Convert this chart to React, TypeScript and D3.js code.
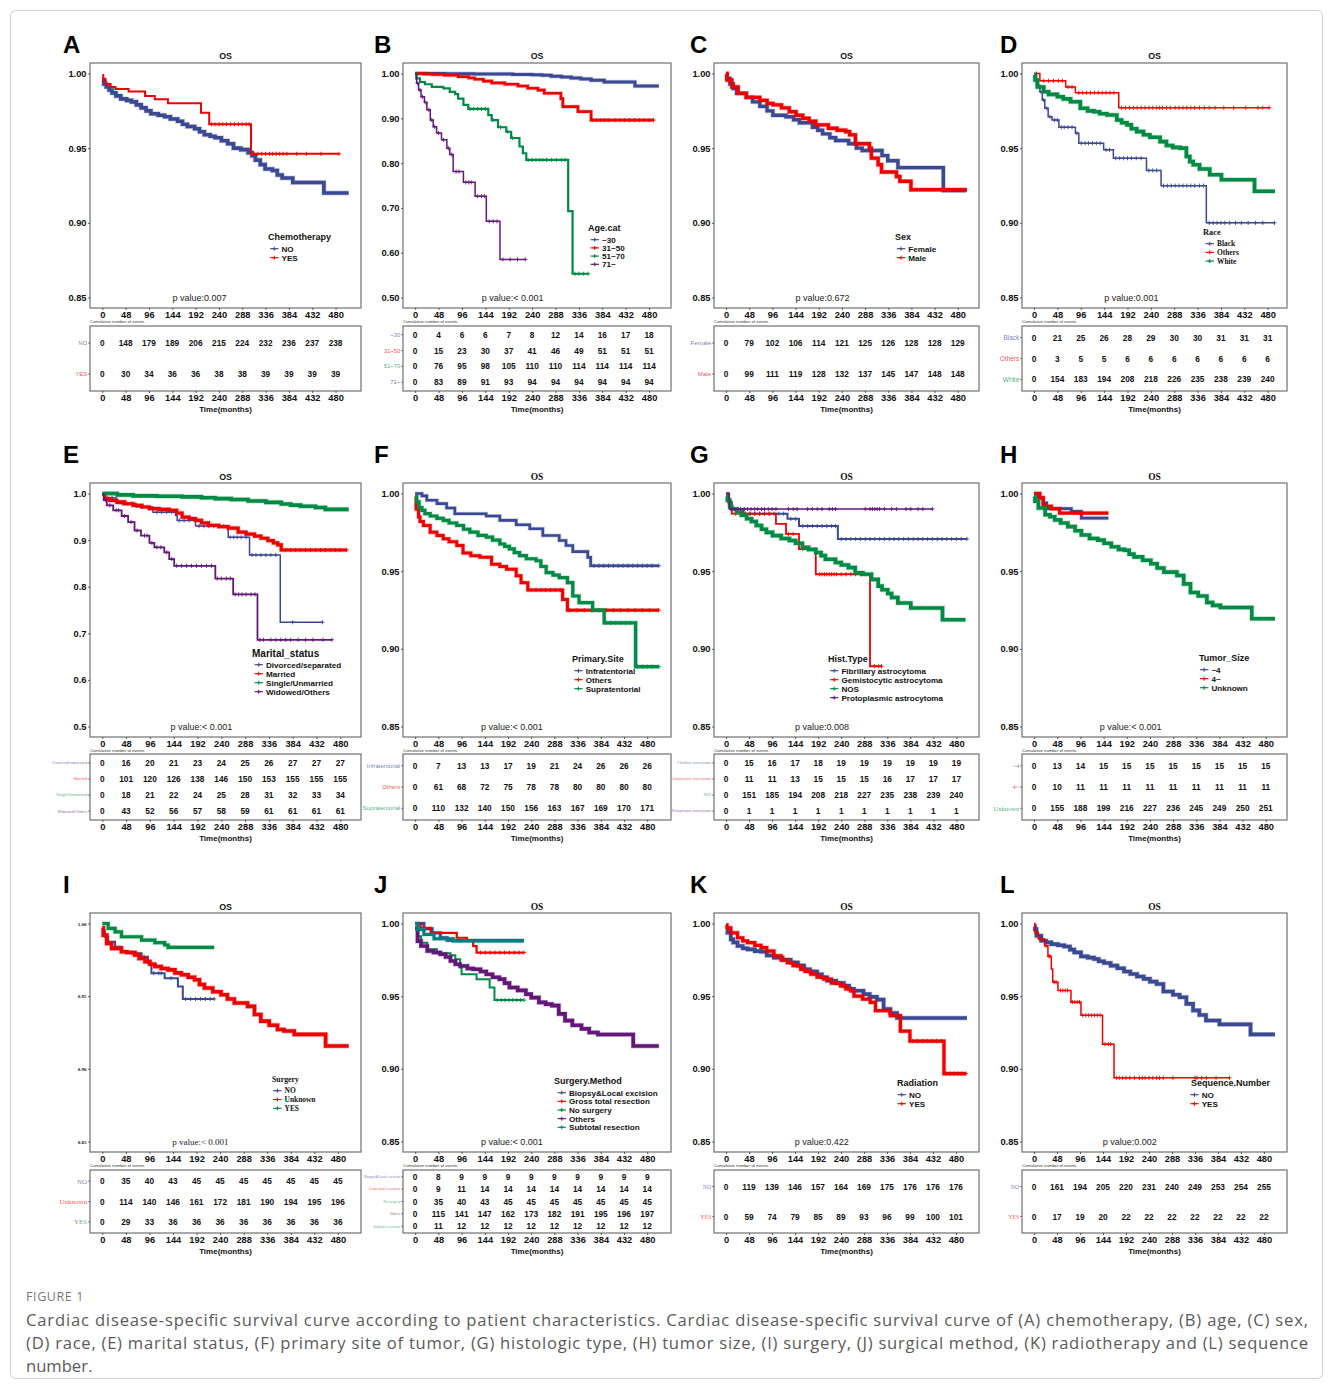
import React, { useEffect, useRef } from 'react';
import * as d3 from 'd3';

const BLUE = '#3B4992';
const RED = '#EE0000';
const GREEN = '#008B45';
const PURPLE = '#631879';
const TEAL = '#008280';
const SANS = '"Liberation Sans", Arial, Helvetica, sans-serif';
const SERIF = '"Liberation Serif", "Times New Roman", serif';
const BOX = '#707070';

type Step = [number, number];

// shared axes
const timeTicks = [0, 48, 96, 144, 192, 240, 288, 336, 384, 432, 480];
const survTicks = [0.85, 0.9, 0.95, 1.0];
const wideTicks = [0.5, 0.6, 0.7, 0.8, 0.9, 1.0];

// A: chemotherapy
const chemoNo: Step[] = [[0,0.996],[3,0.993],[8,0.991],[14,0.989],[20,0.987],[28,0.985],[38,0.983],[50,0.982],[60,0.981],[70,0.979],[80,0.977],[90,0.975],[100,0.973],[115,0.972],[128,0.971],[140,0.9695],[155,0.968],[165,0.966],[175,0.9645],[190,0.963],[200,0.961],[210,0.959],[222,0.958],[232,0.957],[245,0.955],[258,0.953],[270,0.95],[285,0.949],[300,0.947],[308,0.945],[315,0.942],[325,0.939],[335,0.936],[350,0.935],[360,0.932],[370,0.93],[392,0.927],[456,0.92],[507,0.92]];
const chemoYes: Step[] = [[0,0.999],[2,0.996],[7,0.993],[17,0.991],[27,0.9896],[54,0.988],[88,0.985],[108,0.9827],[135,0.98],[203,0.9738],[220,0.966],[306,0.9462],[487,0.9462]];
const chemoYesCensor = [225,232,240,248,256,264,272,280,288,296,302,312,320,328,336,344,350,358,365,372,380,400,420,450,487];
const chemoNoRisk = [0,148,179,189,206,215,224,232,236,237,238];
const chemoYesRisk = [0,30,34,36,36,38,38,39,39,39,39];

// B: age
const age30: Step[] = [[0,1.0],[60,0.9995],[120,0.999],[200,0.998],[240,0.997],[260,0.996],[279,0.994],[300,0.992],[320,0.99],[340,0.988],[361,0.985],[388,0.981],[451,0.972],[500,0.972]];
const age3150: Step[] = [[0,1.0],[20,0.999],[34,0.998],[60,0.996],[88,0.9926],[110,0.99],[122,0.987],[140,0.983],[157,0.979],[184,0.976],[211,0.972],[231,0.967],[252,0.963],[265,0.956],[299,0.944],[303,0.926],[334,0.915],[361,0.896],[489,0.896]];
const age3150Censor = [365,372,380,388,396,410,420,430,440,450,460,470,480,489];
const age5170: Step[] = [[0,1.0],[3,0.989],[10,0.981],[20,0.976],[34,0.97],[58,0.967],[71,0.959],[82,0.954],[88,0.944],[99,0.93],[109,0.921],[150,0.907],[157,0.896],[170,0.88],[187,0.87],[197,0.856],[214,0.837],[221,0.822],[228,0.807],[314,0.693],[323,0.553],[355,0.553]];
const age5170Censor = [112,120,128,136,144,160,175,190,200,232,240,248,256,262,270,280,290,300,308,328,336,345,355];
const age71: Step[] = [[0,1.0],[2,0.989],[3,0.978],[7,0.963],[12,0.948],[19,0.935],[24,0.919],[31,0.896],[37,0.881],[44,0.867],[54,0.852],[65,0.833],[71,0.819],[78,0.781],[99,0.757],[123,0.726],[146,0.67],[174,0.585],[226,0.585]];
const age71Censor = [5,10,15,22,28,34,40,48,58,68,75,84,90,104,110,115,128,136,142,152,160,168,180,195,210,226];
const age30Risk = [0,4,6,6,7,8,12,14,16,17,18];
const age3150Risk = [0,15,23,30,37,41,46,49,51,51,51];
const age5170Risk = [0,76,95,98,105,110,110,114,114,114,114];
const age71Risk = [0,83,89,91,93,94,94,94,94,94,94];

// C: sex
const sexFemale: Step[] = [[0,0.999],[2,0.9967],[8,0.993],[15,0.99],[22,0.9867],[42,0.984],[55,0.981],[70,0.978],[85,0.975],[97,0.972],[124,0.971],[140,0.969],[152,0.967],[179,0.964],[190,0.962],[200,0.9596],[215,0.957],[227,0.9551],[254,0.953],[270,0.95],[282,0.9484],[323,0.945],[335,0.9416],[356,0.937],[450,0.9216],[497,0.9216]];
const sexMale: Step[] = [[0,1.0],[2,0.9956],[12,0.991],[25,0.9867],[42,0.984],[70,0.982],[85,0.98],[97,0.979],[115,0.977],[131,0.9744],[145,0.972],[159,0.97],[172,0.968],[186,0.9656],[212,0.9633],[230,0.962],[248,0.961],[256,0.9589],[268,0.953],[297,0.95],[301,0.9433],[315,0.9389],[322,0.934],[353,0.931],[360,0.9278],[383,0.9222],[499,0.9222]];
const sexFemaleRisk = [0,79,102,106,114,121,125,126,128,128,129];
const sexMaleRisk = [0,99,111,119,128,132,137,145,147,148,148];

// D: race
const raceBlack: Step[] = [[0,1.0],[5,0.992],[12,0.9878],[17,0.9822],[22,0.9767],[29,0.9711],[37,0.9689],[51,0.964],[85,0.96],[92,0.9533],[143,0.9489],[163,0.9433],[231,0.9351],[261,0.9249],[354,0.9],[494,0.9]];
const raceBlackCensor = [8,14,20,26,33,42,48,56,62,70,78,88,97,105,112,120,128,136,148,155,168,176,184,192,200,210,220,236,244,252,266,274,282,290,298,306,314,322,330,340,348,360,368,376,384,392,402,414,426,440,455,470,494];
const raceOthers: Step[] = [[0,1.0],[12,0.9951],[65,0.991],[85,0.9871],[174,0.9771],[483,0.9771]];
const raceOthersCensor = [5,20,30,40,50,58,70,78,92,100,108,116,124,132,140,148,156,164,180,188,196,204,212,220,228,236,244,252,258,264,272,280,290,298,306,314,322,330,340,350,360,372,390,410,435,460,470,483];
const raceWhite: Step[] = [[0,0.999],[2,0.9956],[7,0.991],[20,0.9878],[30,0.986],[48,0.9844],[60,0.983],[75,0.9811],[95,0.9767],[110,0.975],[123,0.9744],[135,0.973],[150,0.9722],[170,0.9689],[180,0.967],[191,0.9656],[200,0.963],[211,0.9611],[225,0.959],[238,0.9573],[259,0.9544],[272,0.9518],[285,0.9505],[300,0.95],[313,0.9444],[320,0.941],[327,0.9389],[340,0.936],[361,0.9322],[385,0.9289],[453,0.9211],[495,0.9211]];
const raceBlackRisk = [0,21,25,26,28,29,30,30,31,31,31];
const raceOthersRisk = [0,3,5,5,6,6,6,6,6,6,6];
const raceWhiteRisk = [0,154,183,194,208,218,226,235,238,239,240];

// E: marital status
const marDiv: Step[] = [[0,1.0],[5,0.9906],[29,0.9784],[68,0.9711],[102,0.96],[148,0.953],[151,0.9423],[188,0.93],[254,0.906],[297,0.868],[359,0.7237],[444,0.7237]];
const marDivCensor = [10,20,40,50,60,80,90,110,120,130,140,155,165,175,195,205,215,225,235,245,258,265,272,280,290,302,310,320,330,340,350,384,444];
const marMarried: Step[] = [[0,0.998],[5,0.989],[15,0.985],[29,0.982],[45,0.978],[62,0.9747],[80,0.971],[95,0.9675],[115,0.966],[135,0.964],[150,0.958],[161,0.9495],[175,0.946],[188,0.9423],[200,0.937],[214,0.9315],[235,0.929],[254,0.9257],[274,0.917],[290,0.913],[307,0.9084],[320,0.904],[334,0.899],[345,0.894],[354,0.8896],[361,0.8788],[493,0.8788]];
const marMarriedCensor = [370,380,390,400,410,420,430,440,450,460,470,480,493];
const marSingle: Step[] = [[0,1.0],[30,0.997],[62,0.995],[110,0.994],[161,0.9928],[200,0.991],[228,0.989],[260,0.987],[294,0.984],[330,0.981],[361,0.9776],[380,0.975],[400,0.9726],[430,0.97],[450,0.966],[497,0.966]];
const marWid: Step[] = [[0,0.998],[3,0.9856],[9,0.9747],[22,0.964],[39,0.9517],[52,0.9387],[65,0.9206],[78,0.9098],[95,0.894],[105,0.8846],[125,0.8737],[135,0.8593],[145,0.8449],[228,0.8175],[264,0.7835],[313,0.6861],[463,0.6861]];
const marWidCensor = [6,15,28,33,45,58,70,85,90,100,110,118,130,140,150,160,170,180,190,200,210,220,232,240,250,258,268,275,282,290,300,308,318,325,340,350,360,370,380,395,410,425,445,463];
const marDivRisk = [0,16,20,21,23,24,25,26,27,27,27];
const marMarriedRisk = [0,101,120,126,138,146,150,153,155,155,155];
const marSingleRisk = [0,18,21,22,24,25,28,31,32,33,34];
const marWidRisk = [0,43,52,56,57,58,59,61,61,61,61];

// F: primary site
const siteInfra: Step[] = [[0,1.0],[14,0.9985],[24,0.9957],[45,0.9935],[65,0.9907],[82,0.987],[147,0.9855],[175,0.9827],[209,0.9799],[237,0.9773],[264,0.973],[298,0.9697],[312,0.9665],[326,0.9626],[357,0.9589],[363,0.9535],[504,0.9535]];
const siteInfraCensor = [370,380,390,400,410,420,430,440,450,460,470,480,490,504];
const siteOthers: Step[] = [[0,0.998],[2,0.99],[7,0.9848],[10,0.982],[17,0.9794],[31,0.9751],[45,0.973],[58,0.9708],[70,0.969],[86,0.9665],[99,0.9617],[115,0.96],[134,0.9589],[158,0.9545],[175,0.953],[189,0.9513],[209,0.947],[219,0.9426],[233,0.9379],[305,0.9318],[315,0.9249],[504,0.9249]];
const siteOthersCensor = [240,250,260,270,280,290,300,320,335,350,365,380,395,410,425,440,455,470,485,504];
const siteSupra: Step[] = [[0,0.998],[3,0.9946],[8,0.991],[14,0.9892],[20,0.987],[31,0.9855],[45,0.984],[58,0.9827],[70,0.981],[86,0.9794],[100,0.977],[113,0.9751],[130,0.973],[147,0.9719],[160,0.97],[175,0.9675],[185,0.966],[195,0.9643],[205,0.962],[216,0.96],[230,0.958],[250,0.9567],[260,0.953],[271,0.9491],[285,0.9475],[298,0.9459],[315,0.9426],[326,0.934],[339,0.9297],[367,0.9249],[391,0.9167],[456,0.8885],[504,0.8885]];
const siteSupraCensor = [395,405,415,425,435,445,460,470,480,490,504];
const siteInfraRisk = [0,7,13,13,17,19,21,24,26,26,26];
const siteOthersRisk = [0,61,68,72,75,78,78,80,80,80,80];
const siteSupraRisk = [0,110,132,140,150,156,163,167,169,170,171];

// G: histologic type
const histFib: Step[] = [[0,1.0],[5,0.9946],[12,0.99],[36,0.987],[128,0.9837],[152,0.979],[233,0.9707],[502,0.9707]];
const histFibCensor = [40,50,60,70,80,90,100,110,120,135,145,160,170,180,190,200,210,220,228,240,250,260,270,280,290,300,310,320,330,340,350,360,370,380,390,400,410,420,430,440,450,460,470,480,490,502];
const histGem: Step[] = [[0,1.0],[5,0.9935],[12,0.987],[104,0.9805],[125,0.974],[152,0.9642],[187,0.948],[300,0.8888],[324,0.8888]];
const histGemCensor = [20,30,40,50,60,70,80,90,130,140,160,170,195,200,205,210,215,220,225,230,240,250,260,270,280,290,310,318,324];
const histNos: Step[] = [[0,0.998],[3,0.9957],[8,0.9913],[12,0.99],[22,0.988],[32,0.986],[43,0.9837],[53,0.982],[63,0.9794],[74,0.977],[84,0.975],[97,0.9729],[115,0.971],[132,0.9697],[145,0.968],[159,0.9653],[172,0.964],[187,0.962],[198,0.96],[207,0.9577],[228,0.9556],[240,0.954],[255,0.9523],[269,0.949],[285,0.948],[303,0.9447],[317,0.9404],[325,0.938],[337,0.9356],[345,0.933],[358,0.9295],[385,0.9263],[451,0.9187],[499,0.9187]];
const histProto: Step[] = [[0,1.0],[7,0.99],[430,0.99]];
const histProtoCensor = [12,18,24,30,38,45,52,60,66,74,80,88,96,104,130,140,148,170,180,190,200,215,222,228,290,300,305,310,315,320,330,345,355,375,385,400,410,430];
const histFibRisk = [0,15,16,17,18,19,19,19,19,19,19];
const histGemRisk = [0,11,11,13,15,15,15,16,17,17,17];
const histNosRisk = [0,151,185,194,208,218,227,235,238,239,240];
const histProtoRisk = [0,1,1,1,1,1,1,1,1,1,1];

// H: tumor size
const sizeSmall: Step[] = [[0,1.0],[9,0.9972],[19,0.9939],[26,0.9902],[77,0.9885],[98,0.9841],[154,0.9841]];
const sizeLarge: Step[] = [[0,1.0],[12,0.9972],[19,0.9918],[36,0.9902],[53,0.9874],[154,0.9874]];
const sizeUnknown: Step[] = [[0,0.998],[2,0.995],[9,0.9907],[23,0.9863],[33,0.985],[43,0.983],[55,0.981],[70,0.9787],[85,0.976],[98,0.9733],[115,0.971],[132,0.97],[145,0.968],[160,0.9657],[175,0.964],[187,0.9635],[197,0.961],[207,0.9592],[225,0.957],[242,0.9548],[255,0.952],[269,0.9494],[296,0.9472],[310,0.9418],[324,0.9363],[340,0.934],[358,0.9298],[370,0.928],[386,0.9266],[451,0.9194],[499,0.9194]];
const sizeSmallRisk = [0,13,14,15,15,15,15,15,15,15,15];
const sizeLargeRisk = [0,10,11,11,11,11,11,11,11,11,11];
const sizeUnknownRisk = [0,155,188,199,216,227,236,245,249,250,251];

// I: surgery
const surgNo: Step[] = [[0,0.996],[2,0.9954],[5,0.9909],[12,0.9875],[26,0.984],[39,0.9806],[60,0.9795],[80,0.9772],[93,0.9727],[100,0.9658],[127,0.9624],[154,0.9567],[164,0.9481],[228,0.9481]];
const surgNoCensor = [60,70,85,105,115,120,140,170,180,190,200,210,220,228];
const surgUnknown: Step[] = [[0,0.997],[2,0.992],[9,0.9863],[19,0.9829],[39,0.9806],[50,0.98],[66,0.9784],[75,0.976],[87,0.9738],[97,0.972],[107,0.9704],[120,0.969],[134,0.9681],[148,0.966],[161,0.9647],[175,0.963],[188,0.9613],[198,0.958],[208,0.9556],[225,0.953],[242,0.951],[255,0.948],[269,0.9453],[296,0.943],[310,0.9374],[323,0.9328],[340,0.93],[357,0.9271],[370,0.926],[391,0.9237],[455,0.9157],[502,0.9157]];
const surgYes: Step[] = [[0,1.0],[12,0.9966],[26,0.9943],[39,0.9909],[80,0.9886],[107,0.9868],[127,0.9852],[134,0.9836],[228,0.9836]];
const surgNoRisk = [0,35,40,43,45,45,45,45,45,45,45];
const surgUnknownRisk = [0,114,140,146,161,172,181,190,194,195,196];
const surgYesRisk = [0,29,33,36,36,36,36,36,36,36,36];

// J: surgical method
const methBiopsy: Step[] = [[0,1.0],[18,0.9964],[35,0.9936],[52,0.9902],[66,0.9884],[225,0.9884]];
const methGross: Step[] = [[0,1.0],[11,0.997],[32,0.9936],[86,0.9902],[107,0.9886],[120,0.9845],[127,0.98],[225,0.98]];
const methGrossCensor = [135,145,155,165,175,185,195,205,215,225];
const methNone: Step[] = [[0,0.996],[5,0.9913],[12,0.9868],[25,0.9822],[45,0.9795],[73,0.9781],[83,0.9754],[93,0.9697],[96,0.9651],[127,0.9617],[154,0.956],[164,0.9473],[225,0.9473]];
const methNoneCensor = [170,178,186,194,202,210,218,225];
const methOthers: Step[] = [[0,0.997],[5,0.9879],[12,0.9845],[25,0.9811],[38,0.98],[52,0.9788],[63,0.977],[73,0.9742],[83,0.972],[93,0.9708],[108,0.969],[120,0.9685],[135,0.967],[147,0.9651],[160,0.963],[174,0.9617],[185,0.959],[195,0.956],[212,0.954],[229,0.9514],[240,0.949],[256,0.9457],[270,0.9445],[283,0.9435],[297,0.9378],[310,0.9332],[325,0.93],[344,0.9275],[360,0.925],[378,0.9236],[451,0.9157],[504,0.9157]];
const methSub: Step[] = [[0,1.0],[5,0.9959],[18,0.9925],[39,0.9895],[79,0.9879],[225,0.9879]];
const methBiopsyRisk = [0,8,9,9,9,9,9,9,9,9,9];
const methGrossRisk = [0,9,11,14,14,14,14,14,14,14,14];
const methNoneRisk = [0,35,40,43,45,45,45,45,45,45,45];
const methOthersRisk = [0,115,141,147,162,173,182,191,195,196,197];
const methSubRisk = [0,11,12,12,12,12,12,12,12,12,12];

// K: radiation
const radNo: Step[] = [[0,0.995],[3,0.9936],[10,0.9891],[15,0.987],[24,0.9845],[35,0.983],[45,0.9822],[60,0.981],[73,0.9806],[85,0.978],[100,0.9765],[118,0.975],[135,0.9731],[150,0.971],[163,0.9685],[175,0.967],[190,0.9651],[200,0.963],[211,0.9606],[230,0.959],[246,0.9571],[257,0.955],[267,0.9537],[287,0.9514],[300,0.9495],[315,0.9476],[329,0.9412],[343,0.9384],[357,0.935],[503,0.935]];
const radYes: Step[] = [[0,0.999],[2,0.997],[10,0.9936],[24,0.9902],[35,0.988],[45,0.9868],[60,0.985],[73,0.9834],[85,0.981],[100,0.9777],[115,0.975],[128,0.9731],[140,0.971],[156,0.9685],[165,0.967],[177,0.9651],[190,0.963],[204,0.9617],[220,0.959],[239,0.9571],[250,0.955],[260,0.9537],[267,0.95],[285,0.948],[301,0.9457],[312,0.94],[343,0.9366],[364,0.9259],[384,0.9191],[455,0.8967],[501,0.8967]];
const radYesCensor = [390,400,410,420,430,440,450,460,468,476,484,492,501];
const radNoRisk = [0,119,139,146,157,164,169,175,176,176,176];
const radYesRisk = [0,59,74,79,85,89,93,96,99,100,101];

// L: sequence number
const seqNo: Step[] = [[0,0.998],[2,0.9961],[5,0.9916],[15,0.9881],[25,0.987],[36,0.9858],[50,0.985],[63,0.9842],[75,0.982],[84,0.9801],[98,0.9774],[112,0.9765],[125,0.9756],[135,0.974],[146,0.9728],[160,0.971],[174,0.9692],[188,0.967],[201,0.9653],[215,0.9635],[229,0.9619],[242,0.96],[256,0.9584],[270,0.9532],[290,0.951],[304,0.9493],[318,0.9447],[332,0.9402],[345,0.937],[359,0.9333],[387,0.9306],[452,0.9237],[503,0.9237]];
const seqYes: Step[] = [[0,1.0],[2,0.9938],[9,0.9893],[22,0.9847],[29,0.9774],[36,0.9687],[39,0.9596],[50,0.9539],[77,0.9459],[98,0.9368],[143,0.9169],[167,0.8938],[408,0.8938]];
const seqYesCensor = [5,12,18,25,31,33,42,46,55,60,65,70,80,85,90,95,102,108,114,120,126,132,138,148,155,160,172,178,185,192,200,210,220,226,232,240,248,256,262,270,290,336,340,350,360,380,408];
const seqNoRisk = [0,161,194,205,220,231,240,249,253,254,255];
const seqYesRisk = [0,17,19,20,22,22,22,22,22,22,22];

interface Series { name: string; color: string; steps: Step[]; censor?: number[]; risk: number[]; w: number; }
interface Panel {
  letter: string; col: number; row: number; yTicks: number[]; yFmt: string; pText: string;
  legendTitle: string; legend: [number, number]; legendText: number; legendStep?: number;
  titleSerif?: boolean; legendSerif?: boolean; rowSerif?: boolean; rowSize: number; tickSerif?: boolean; pSerif?: boolean;
  legendTitleSize?: number; series: Series[];
}

const cols = [
  { left: 90, right: 361, letterX: 63 },
  { left: 403, right: 671, letterX: 374 },
  { left: 714, right: 979, letterX: 690 },
  { left: 1022, right: 1287, letterX: 1000 },
];
const rows = [
  { letterY: 53, titleY: 58.5, plotTop: 63, plotBottom: 308, tableTop: 326, tableBottom: 391 },
  { letterY: 463, titleY: 480, plotTop: 483, plotBottom: 737, tableTop: 754, tableBottom: 820 },
  { letterY: 893, titleY: 909.5, plotTop: 913, plotBottom: 1152, tableTop: 1170, tableBottom: 1233 },
];

const panels: Panel[] = [
  { letter: 'A', col: 0, row: 0, yTicks: survTicks, yFmt: '.2f', pText: 'p value:0.007', legendTitle: 'Chemotherapy', legend: [178, 174], legendText: 13.5, rowSize: 6,
    series: [
      { name: 'NO', color: BLUE, steps: chemoNo, risk: chemoNoRisk, w: 3.6 },
      { name: 'YES', color: RED, steps: chemoYes, censor: chemoYesCensor, risk: chemoYesRisk, w: 2 },
    ] },
  { letter: 'B', col: 1, row: 0, yTicks: wideTicks, yFmt: '.2f', pText: 'p value:< 0.001', legendTitle: 'Age.cat', legend: [185, 165], legendText: 14, legendStep: 8.2, rowSize: 5.8,
    series: [
      { name: '~30', color: BLUE, steps: age30, risk: age30Risk, w: 3 },
      { name: '31~50', color: RED, steps: age3150, censor: age3150Censor, risk: age3150Risk, w: 2.6 },
      { name: '51~70', color: GREEN, steps: age5170, censor: age5170Censor, risk: age5170Risk, w: 2.2 },
      { name: '71~', color: PURPLE, steps: age71, censor: age71Censor, risk: age71Risk, w: 1.5 },
    ] },
  { letter: 'C', col: 2, row: 0, yTicks: survTicks, yFmt: '.2f', pText: 'p value:0.672', legendTitle: 'Sex', legend: [181, 174], legendText: 13.3, rowSize: 6.2,
    series: [
      { name: 'Female', color: BLUE, steps: sexFemale, risk: sexFemaleRisk, w: 3.4 },
      { name: 'Male', color: RED, steps: sexMale, risk: sexMaleRisk, w: 3.4 },
    ] },
  { letter: 'D', col: 3, row: 0, yTicks: survTicks, yFmt: '.2f', pText: 'p value:0.001', legendTitle: 'Race', legend: [181, 169], legendText: 14, legendStep: 8.7, legendSerif: true, legendTitleSize: 8.4, rowSize: 6.4,
    series: [
      { name: 'Black', color: BLUE, steps: raceBlack, censor: raceBlackCensor, risk: raceBlackRisk, w: 1.5 },
      { name: 'Others', color: RED, steps: raceOthers, censor: raceOthersCensor, risk: raceOthersRisk, w: 1.5 },
      { name: 'White', color: GREEN, steps: raceWhite, risk: raceWhiteRisk, w: 3.6 },
    ] },
  { letter: 'E', col: 0, row: 1, yTicks: wideTicks, yFmt: '.1f', pText: 'p value:< 0.001', legendTitle: 'Marital_status', legend: [162, 170], legendText: 14, legendTitleSize: 10, rowSize: 4,
    series: [
      { name: 'Divorced/separated', color: BLUE, steps: marDiv, censor: marDivCensor, risk: marDivRisk, w: 1.5 },
      { name: 'Married', color: RED, steps: marMarried, censor: marMarriedCensor, risk: marMarriedRisk, w: 3.2 },
      { name: 'Single/Unmarried', color: GREEN, steps: marSingle, risk: marSingleRisk, w: 3.6 },
      { name: 'Widowed/Others', color: PURPLE, steps: marWid, censor: marWidCensor, risk: marWidRisk, w: 1.8 },
    ] },
  { letter: 'F', col: 1, row: 1, yTicks: survTicks, yFmt: '.2f', pText: 'p value:< 0.001', legendTitle: 'Primary.Site', legend: [169, 176], legendText: 13.7, titleSerif: true, rowSize: 6,
    series: [
      { name: 'Infratentorial', color: BLUE, steps: siteInfra, censor: siteInfraCensor, risk: siteInfraRisk, w: 2.6 },
      { name: 'Others', color: RED, steps: siteOthers, censor: siteOthersCensor, risk: siteOthersRisk, w: 3 },
      { name: 'Supratentorial', color: GREEN, steps: siteSupra, censor: siteSupraCensor, risk: siteSupraRisk, w: 3.2 },
    ] },
  { letter: 'G', col: 2, row: 1, yTicks: survTicks, yFmt: '.2f', pText: 'p value:0.008', legendTitle: 'Hist.Type', legend: [114, 176], legendText: 13.4, titleSerif: true, rowSerif: true, rowSize: 3.8,
    series: [
      { name: 'Fibrillary astrocytoma', color: BLUE, steps: histFib, censor: histFibCensor, risk: histFibRisk, w: 2 },
      { name: 'Gemistocytic astrocytoma', color: RED, steps: histGem, censor: histGemCensor, risk: histGemRisk, w: 1.8 },
      { name: 'NOS', color: GREEN, steps: histNos, risk: histNosRisk, w: 3.6 },
      { name: 'Protoplasmic astrocytoma', color: PURPLE, steps: histProto, censor: histProtoCensor, risk: histProtoRisk, w: 1.5 },
    ] },
  { letter: 'H', col: 3, row: 1, yTicks: survTicks, yFmt: '.2f', pText: 'p value:< 0.001', legendTitle: 'Tumor_Size', legend: [177, 175], legendText: 12.4, titleSerif: true, rowSerif: true, rowSize: 6.5,
    series: [
      { name: '~4', color: BLUE, steps: sizeSmall, risk: sizeSmallRisk, w: 2.8 },
      { name: '4~', color: RED, steps: sizeLarge, risk: sizeLargeRisk, w: 3.2 },
      { name: 'Unknown', color: GREEN, steps: sizeUnknown, risk: sizeUnknownRisk, w: 3.6 },
    ] },
  { letter: 'I', col: 0, row: 2, yTicks: survTicks, yFmt: '.2f', pText: 'p value:< 0.001', legendTitle: 'Surgery', legend: [182, 166], legendText: 12.6, legendStep: 8.8, legendSerif: true, legendTitleSize: 7.8, rowSerif: true, rowSize: 7, tickSerif: true, pSerif: true,
    series: [
      { name: 'NO', color: BLUE, steps: surgNo, censor: surgNoCensor, risk: surgNoRisk, w: 2 },
      { name: 'Unknown', color: RED, steps: surgUnknown, risk: surgUnknownRisk, w: 3.6 },
      { name: 'YES', color: GREEN, steps: surgYes, risk: surgYesRisk, w: 3.2 },
    ] },
  { letter: 'J', col: 1, row: 2, yTicks: survTicks, yFmt: '.2f', pText: 'p value:< 0.001', legendTitle: 'Surgery.Method', legend: [151, 168], legendText: 15, legendStep: 8.65, titleSerif: true, rowSerif: true, rowSize: 3.8,
    series: [
      { name: 'Biopsy&Local excision', color: BLUE, steps: methBiopsy, risk: methBiopsyRisk, w: 2.8 },
      { name: 'Gross total resection', color: RED, steps: methGross, censor: methGrossCensor, risk: methGrossRisk, w: 2.2 },
      { name: 'No surgery', color: GREEN, steps: methNone, censor: methNoneCensor, risk: methNoneRisk, w: 2 },
      { name: 'Others', color: PURPLE, steps: methOthers, risk: methOthersRisk, w: 3.6 },
      { name: 'Subtotal resection', color: TEAL, steps: methSub, risk: methSubRisk, w: 3 },
    ] },
  { letter: 'K', col: 2, row: 2, yTicks: survTicks, yFmt: '.2f', pText: 'p value:0.422', legendTitle: 'Radiation', legend: [183, 170], legendText: 12, titleSerif: true, rowSerif: true, rowSize: 5.8,
    series: [
      { name: 'NO', color: BLUE, steps: radNo, risk: radNoRisk, w: 3.6 },
      { name: 'YES', color: RED, steps: radYes, censor: radYesCensor, risk: radYesRisk, w: 3.2 },
    ] },
  { letter: 'L', col: 3, row: 2, yTicks: survTicks, yFmt: '.2f', pText: 'p value:0.002', legendTitle: 'Sequence.Number', legend: [169, 170], legendText: 10.7, titleSerif: true, rowSerif: true, rowSize: 5.8,
    series: [
      { name: 'NO', color: BLUE, steps: seqNo, risk: seqNoRisk, w: 3.6 },
      { name: 'YES', color: RED, steps: seqYes, censor: seqYesCensor, risk: seqYesRisk, w: 1.5 },
    ] },
];

const captionLines = [
  'Cardiac disease-specific survival curve according to patient characteristics. Cardiac disease-specific survival curve of (A) chemotherapy, (B) age, (C) sex,',
  '(D) race, (E) marital status, (F) primary site of tumor, (G) histologic type, (H) tumor size, (I) surgery, (J) surgical method, (K) radiotherapy and (L) sequence',
  'number.',
];

const bisectT = d3.bisector((d: Step) => d[0]).right;
const survAt = (steps: Step[], t: number) => steps[Math.max(0, bisectT(steps, t) - 1)][1];
const plusPath = (cx: number, cy: number, h: number) => `M${cx - h},${cy}H${cx + h}M${cx},${cy - h}V${cy + h}`;

function styleAxis(sel: any, family: string, size: number) {
  sel.select('.domain').remove();
  sel.selectAll('.tick line').attr('stroke', '#333').attr('stroke-width', 0.8);
  sel.selectAll('.tick text').attr('font-family', family).attr('font-size', size).attr('font-weight', 'bold').attr('fill', '#111');
}

function drawPanel(svg: any, p: Panel) {
  const c = cols[p.col];
  const r = rows[p.row];
  const maxT = d3.max(p.series, s => s.steps[s.steps.length - 1][0]) as number;
  const x = d3.scaleLinear().domain([-0.05 * maxT, 1.05 * maxT]).range([c.left, c.right]);
  const y = d3.scaleLinear().domain(d3.extent(p.yTicks) as [number, number]).range([r.plotBottom - 10.5, r.plotTop + 10.5]);
  const g = svg.append('g');
  const cx = (c.left + c.right) / 2;

  g.append('text').attr('x', c.letterX).attr('y', r.letterY).attr('font-family', SANS).attr('font-weight', 'bold')
    .attr('font-size', 24).attr('fill', '#000').text(p.letter);
  g.append('text').attr('x', cx).attr('y', r.titleY).attr('text-anchor', 'middle').attr('font-weight', 'bold')
    .attr('font-family', p.titleSerif ? SERIF : SANS).attr('font-size', p.titleSerif ? 9.5 : 8.8).attr('fill', '#111').text('OS');

  g.append('rect').attr('x', c.left).attr('y', r.plotTop).attr('width', c.right - c.left).attr('height', r.plotBottom - r.plotTop)
    .attr('fill', 'none').attr('stroke', BOX).attr('stroke-width', 1.2);

  const ya = g.append('g').attr('transform', `translate(${c.left},0)`)
    .call(d3.axisLeft(y).tickValues(p.yTicks).tickFormat(d3.format(p.yFmt) as any).tickSize(2).tickPadding(1.5));
  styleAxis(ya, p.tickSerif ? SERIF : SANS, p.tickSerif ? 5 : 9.3);
  const xa = g.append('g').attr('transform', `translate(0,${r.plotBottom})`)
    .call(d3.axisBottom(x).tickValues(timeTicks).tickFormat(d3.format('d') as any).tickSize(2).tickPadding(1));
  styleAxis(xa, SANS, 9.3);

  const line = d3.line<Step>().x(d => x(d[0])).y(d => y(d[1])).curve(d3.curveStepAfter);
  p.series.forEach(s => {
    if (s.w > 2.5) {
      g.append('path').attr('d', line(s.steps)).attr('fill', 'none').attr('stroke', s.color)
        .attr('stroke-opacity', 0.28).attr('stroke-width', s.w + 1.4);
    }
    g.append('path').attr('d', line(s.steps)).attr('fill', 'none').attr('stroke', s.color).attr('stroke-width', s.w);
    if (s.censor) {
      const d = s.censor.map(t => plusPath(x(t), y(survAt(s.steps, t)), 2.1)).join('');
      g.append('path').attr('d', d).attr('fill', 'none').attr('stroke', s.color).attr('stroke-width', 0.9);
    }
  });

  // legend
  const lf = p.legendSerif ? SERIF : SANS;
  const lg = g.append('g').attr('transform', `translate(${c.left + p.legend[0]},${r.plotTop + p.legend[1]})`);
  const tSize = p.legendTitleSize ?? 9;
  lg.append('text').attr('x', 0).attr('y', tSize * 0.36).attr('font-family', lf).attr('font-weight', 'bold')
    .attr('font-size', tSize).attr('fill', '#111').text(p.legendTitle);
  const step = p.legendStep ?? 9;
  const iSize = p.legendSerif ? 7.4 : 8.1;
  p.series.forEach((s, i) => {
    const yy = 11.7 + i * step;
    const x0 = p.legendText - 11.5;
    const x1 = p.legendText - 3;
    lg.append('line').attr('x1', x0).attr('x2', x1).attr('y1', yy).attr('y2', yy).attr('stroke', s.color).attr('stroke-width', 1.1);
    lg.append('path').attr('d', plusPath((x0 + x1) / 2, yy, 2)).attr('stroke', s.color).attr('stroke-width', 1);
    lg.append('text').attr('x', p.legendText).attr('y', yy + iSize * 0.36).attr('font-family', lf).attr('font-weight', 'bold')
      .attr('font-size', iSize).attr('fill', '#111').text(s.name);
  });

  g.append('text').attr('x', x(200)).attr('y', y(p.yTicks[0]) + 3).attr('text-anchor', 'middle')
    .attr('font-family', p.pSerif ? SERIF : SANS).attr('font-size', 9).attr('fill', '#222').text(p.pText);

  g.append('text').attr('x', c.left).attr('y', r.plotBottom + 14.6).attr('font-family', SANS).attr('font-size', 4.2)
    .attr('fill', '#333').text('Cumulative number of events');

  // risk table
  g.append('rect').attr('x', c.left).attr('y', r.tableTop).attr('width', c.right - c.left).attr('height', r.tableBottom - r.tableTop)
    .attr('fill', 'none').attr('stroke', BOX).attr('stroke-width', 1.2);
  const ry = d3.scalePoint<string>().domain(p.series.map(s => s.name)).range([r.tableTop, r.tableBottom]).padding(0.55);
  p.series.forEach(s => {
    const yy = ry(s.name) as number;
    g.append('line').attr('x1', c.left - 2).attr('x2', c.left).attr('y1', yy).attr('y2', yy).attr('stroke', '#555').attr('stroke-width', 0.7);
    g.append('text').attr('x', c.left - 2.8).attr('y', yy + p.rowSize * 0.35).attr('text-anchor', 'end')
      .attr('font-family', p.rowSerif ? SERIF : SANS).attr('font-size', p.rowSize).attr('fill', s.color).attr('fill-opacity', 0.72).text(s.name);
    g.selectAll(null).data(s.risk).enter().append('text')
      .attr('x', (_d: number, i: number) => x(timeTicks[i])).attr('y', yy + 3).attr('text-anchor', 'middle')
      .attr('font-family', SANS).attr('font-weight', 'bold').attr('font-size', 8.3).attr('fill', '#111').text((d: number) => d);
  });
  const ta = g.append('g').attr('transform', `translate(0,${r.tableBottom})`)
    .call(d3.axisBottom(x).tickValues(timeTicks).tickFormat(d3.format('d') as any).tickSize(2).tickPadding(1));
  styleAxis(ta, SANS, 9.3);
  g.append('text').attr('x', cx).attr('y', r.tableBottom + 20.5).attr('text-anchor', 'middle').attr('font-family', SANS)
    .attr('font-weight', 'bold').attr('font-size', 8).attr('fill', '#111').text('Time(months)');
}

const App: React.FC = () => {
  const ref = useRef<SVGSVGElement | null>(null);

  useEffect(() => {
    document.body.style.margin = '0';
    if (!ref.current) return;
    const svg = d3.select(ref.current);
    svg.selectAll('*').remove();
    svg.append('rect').attr('width', 1333).attr('height', 1385).attr('fill', '#fff');
    svg.append('rect').attr('x', 10.5).attr('y', 10.5).attr('width', 1312).attr('height', 1368).attr('rx', 5)
      .attr('fill', 'none').attr('stroke', '#cfcfcf').attr('stroke-width', 1);

    panels.forEach(p => drawPanel(svg, p));

    svg.append('text').attr('x', 26).attr('y', 1301).attr('font-family', '"Open Sans", sans-serif').attr('font-size', 12.5)
      .attr('letter-spacing', 0.6).attr('fill', '#777').text('FIGURE 1');
    captionLines.forEach((t, i) => {
      const tx = svg.append('text').attr('x', 26).attr('y', 1326 + i * 23).attr('font-family', '"Open Sans", sans-serif')
        .attr('font-size', 16.6).attr('fill', '#5a5a5a').text(t);
      if (i < 2) tx.attr('textLength', 1282).attr('lengthAdjust', 'spacing');
    });
  }, []);

  return <svg ref={ref} width={1333} height={1385} style={{ display: 'block' }} />;
};

export default App;
